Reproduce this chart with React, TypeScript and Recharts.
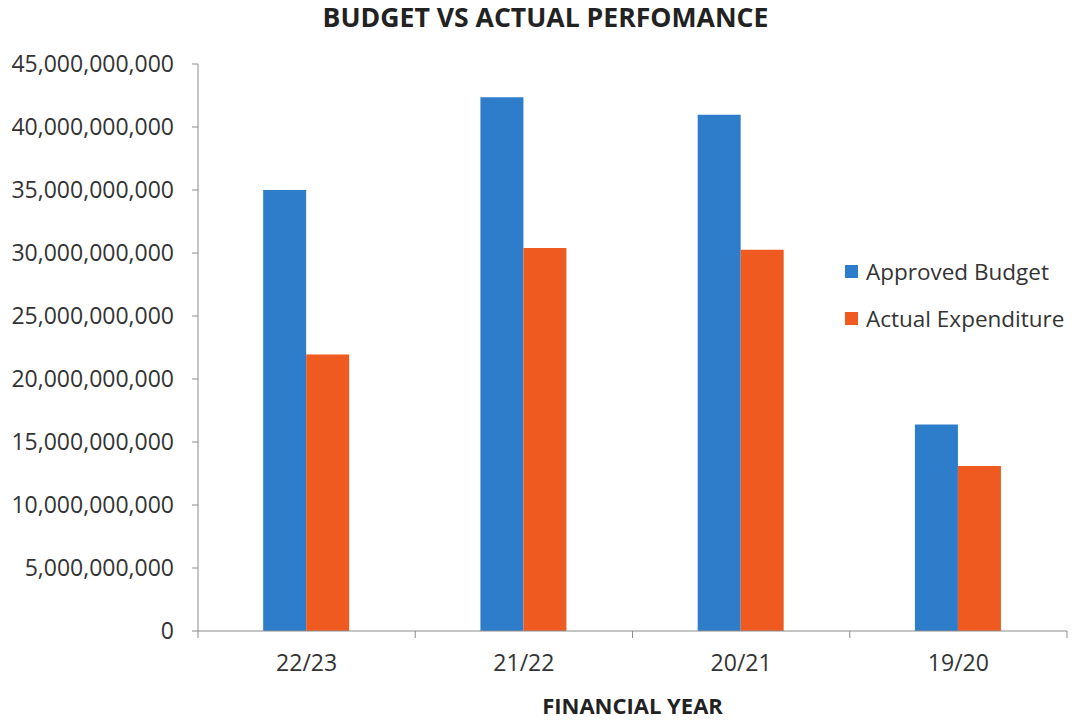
import React from 'react';
import { BarChart, Bar, XAxis, YAxis, Legend } from 'recharts';

const categories = ['22/23', '21/22', '20/21', '19/20'];
const approvedBudget = [35.0e9, 42.37e9, 40.97e9, 16.38e9];
const actualExpenditure = [21.95e9, 30.39e9, 30.26e9, 13.09e9];
const yTicks = [0, 5e9, 10e9, 15e9, 20e9, 25e9, 30e9, 35e9, 40e9, 45e9];
const seriesNames = ['Approved Budget', 'Actual Expenditure'];
const seriesColors = ['#2E7DCA', '#EE5A1F'];

const data = categories.map((c, i) => ({
  year: c,
  budget: approvedBudget[i],
  actual: actualExpenditure[i],
}));

const FONT = '"Open Sans", sans-serif';
const TEXT = '#333333';
const AXIS = '#8c8c8c';
const X_TICK_MARGIN = 24;

const fmt = (v: number) => v.toLocaleString('en-US');

const XTick = (props: any) => {
  const { x, y, payload, index, visibleTicksCount, width } = props;
  const half =
    payload && typeof payload.offset === 'number' && payload.offset > 0
      ? payload.offset
      : width / visibleTicksCount / 2;
  const axisY = y - X_TICK_MARGIN;
  return (
    <g>
      <line x1={x - half} x2={x - half} y1={axisY} y2={axisY + 7} stroke={AXIS} />
      {index === visibleTicksCount - 1 && (
        <line x1={x + half} x2={x + half} y1={axisY} y2={axisY + 7} stroke={AXIS} />
      )}
      <text
        x={x}
        y={y}
        dy="0.71em"
        textAnchor="middle"
        fill={TEXT}
        fontFamily={FONT}
        fontSize={23}
      >
        {payload.value}
      </text>
    </g>
  );
};

const LegendContent = (props: any) => {
  const payload = [...(props.payload || [])].sort(
    (a: any, b: any) => seriesNames.indexOf(a.value) - seriesNames.indexOf(b.value)
  );
  return (
    <div style={{ fontFamily: FONT, fontSize: 22.5, color: TEXT }}>
      {payload.map((p: any, i: number) => (
        <div
          key={i}
          style={{ display: 'flex', alignItems: 'center', height: 47, whiteSpace: 'nowrap' }}
        >
          <span
            style={{
              display: 'inline-block',
              width: 13,
              height: 13,
              background: p.color,
              marginRight: 8,
            }}
          />
          <span>{p.value}</span>
        </div>
      ))}
    </div>
  );
};

export default function App() {
  return (
    <div style={{ position: 'relative', width: 1061, height: 713 }}>
      <div
        style={{
          position: 'absolute',
          left: 0,
          width: 1075,
          top: -9,
          textAlign: 'center',
          fontFamily: FONT,
          fontWeight: 700,
          fontSize: 26.6,
          color: '#222',
          zIndex: 2,
        }}
      >
        BUDGET VS ACTUAL PERFOMANCE
      </div>
      <BarChart
        width={1061}
        height={713}
        data={data}
        margin={{ top: 56, right: 2, left: 0, bottom: 0 }}
        barCategoryGap="30%"
        barGap={0}
      >
        <XAxis
          dataKey="year"
          height={90}
          axisLine={{ stroke: AXIS }}
          tickLine={false}
          tickSize={0}
          tickMargin={X_TICK_MARGIN}
          tick={<XTick />}
          interval={0}
        />
        <YAxis
          width={190}
          domain={[0, 45e9]}
          ticks={yTicks}
          interval={0}
          tickFormatter={fmt}
          axisLine={{ stroke: AXIS }}
          tickLine={{ stroke: AXIS }}
          tickSize={6}
          tickMargin={18}
          tick={{ fill: TEXT, fontFamily: FONT, fontSize: 23 }}
        />
        <Legend
          layout="vertical"
          align="center"
          verticalAlign="middle"
          content={<LegendContent />}
          wrapperStyle={{ left: 837, top: 240, width: 230 }}
        />
        <Bar
          dataKey="budget"
          name={seriesNames[0]}
          fill={seriesColors[0]}
          isAnimationActive={false}
        />
        <Bar
          dataKey="actual"
          name={seriesNames[1]}
          fill={seriesColors[1]}
          isAnimationActive={false}
        />
      </BarChart>
      <div
        style={{
          position: 'absolute',
          left: 190,
          width: 869,
          top: 682,
          textAlign: 'center',
          fontFamily: FONT,
          fontWeight: 700,
          fontSize: 22,
          color: '#222',
        }}
      >
        FINANCIAL YEAR
      </div>
    </div>
  );
}
